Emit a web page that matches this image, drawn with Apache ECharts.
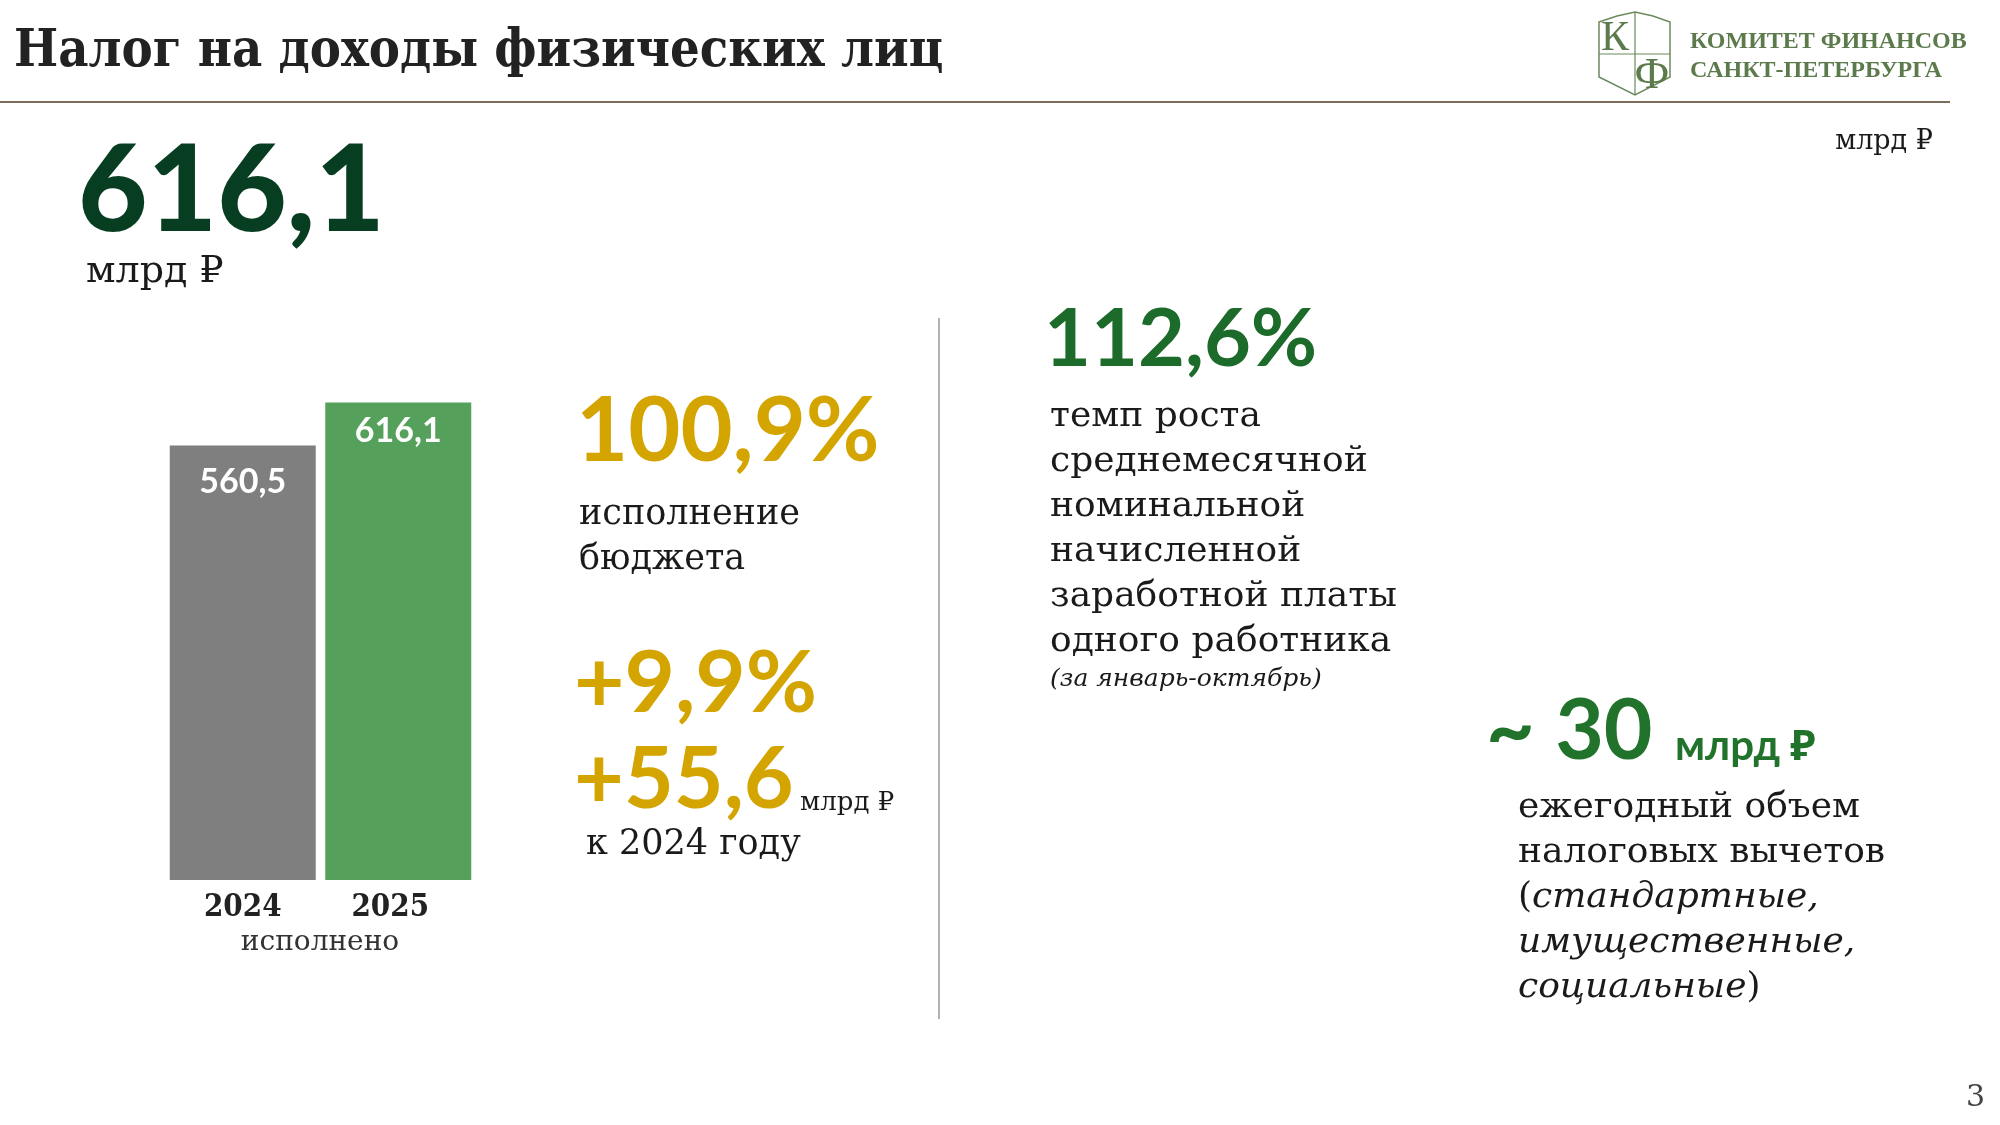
<!DOCTYPE html>
<html>
<head>
<meta charset="utf-8">
<script src="https://cdn.jsdelivr.net/npm/echarts@6/dist/echarts.min.js"></script>
<style>
  html, body { margin: 0; padding: 0; background: #fff; }
  #main { width: 2000px; height: 1125px; }
</style>
</head>
<body>
<div id="main"></div>
<script>
// данные
const years = ["2024", "2025"];
const yearShift = [0, 16];
const revenue = [560.5, 616.1];
const barColors = ["#7f7f7f", "#55a05b"];
const labelGap = [19, 12];
const total2025 = 616.1;
const budgetExec = 100.9;
const growthPct = 9.9;
const growthAbs = 55.6;
const wageGrowth = 112.6;
const deductions = 30;
const wageLines = ["темп роста", "среднемесячной", "номинальной", "начисленной", "заработной платы", "одного работника"];

const SERIF = "'DejaVu Serif Condensed', 'DejaVu Serif', serif";
const SERIF_BODY = "'DejaVu Serif', serif";
const SANS = "Lato, 'Noto Sans', sans-serif";
const GOLD = "#d4a400";
const DARK = "#1a1a1a";

function fmt(v) {
  return v.toFixed(1).replace(".", ",");
}

// текст, y — нижний край строки
function txt(x, y, text, size, opts) {
  opts = opts || {};
  return {
    type: "text",
    x: x,
    y: y,
    silent: true,
    style: {
      text: text,
      fontSize: size,
      fontFamily: opts.family || SERIF_BODY,
      fontWeight: opts.weight || "normal",
      fontStyle: opts.style || "normal",
      fill: opts.color || DARK,
      textAlign: opts.align || "left",
      textVerticalAlign: "bottom",
      rich: opts.rich
    }
  };
}

let chart = echarts.init(document.getElementById("main"), null, { renderer: "canvas" });

const richBody = {
  n: { fontSize: 36, fontFamily: SERIF_BODY, fill: DARK },
  i: { fontSize: 36, fontFamily: SERIF_BODY, fontStyle: "italic", fill: DARK }
};

let graphics = [
  // заголовок
  txt(14, 78, "Налог на доходы физических лиц", 52, { family: SERIF, weight: "bold", color: "#222" }),
  { type: "line", shape: { x1: 0, y1: 102, x2: 1950, y2: 102 }, style: { stroke: "#7a6e5a", lineWidth: 2 } },
  // логотип
  {
    type: "polygon",
    shape: { points: [[1599, 22], [1617, 16], [1635, 12], [1653, 16], [1670, 22], [1670, 77], [1635, 95], [1599, 77]] },
    style: { fill: "none", stroke: "#6b8a5c", lineWidth: 1.5 }
  },
  { type: "line", shape: { x1: 1635, y1: 12, x2: 1635, y2: 95 }, style: { stroke: "#6b8a5c", lineWidth: 1.2 } },
  { type: "line", shape: { x1: 1599, y1: 54, x2: 1670, y2: 54 }, style: { stroke: "#6b8a5c", lineWidth: 1.2 } },
  txt(1615, 60, "К", 42, { family: "'Liberation Serif', serif", color: "#5c7a4c", align: "center" }),
  txt(1652, 98, "Ф", 44, { family: "'Liberation Serif', serif", color: "#5c7a4c", align: "center" }),
  txt(1690, 54, "КОМИТЕТ ФИНАНСОВ", 24, { family: "'Liberation Serif', serif", weight: "bold", color: "#5c7a4c" }),
  txt(1690, 83, "САНКТ-ПЕТЕРБУРГА", 24, { family: "'Liberation Serif', serif", weight: "bold", color: "#5c7a4c" }),
  txt(1933, 155, "млрд ₽", 27, { align: "right" }),
  // итоговая сумма
  txt(78, 252, fmt(total2025), 120, { family: SANS, weight: 900, color: "#073d20" }),
  txt(86, 291, "млрд ₽", 38),
  // подпись под столбцами
  txt(320, 957, "исполнено", 28, { align: "center", color: "#333" }),
  // разделитель
  { type: "line", shape: { x1: 939, y1: 318, x2: 939, y2: 1019 }, style: { stroke: "#999", lineWidth: 1.5 } },
  // исполнение бюджета
  txt(576, 477, fmt(budgetExec) + "%", 90, { family: SANS, weight: "bold", color: GOLD }),
  txt(579, 532, "исполнение", 35),
  txt(579, 577, "бюджета", 35),
  txt(574, 727, "+" + fmt(growthPct) + "%", 87, { family: SANS, weight: "bold", color: GOLD }),
  txt(574, 823, "+" + fmt(growthAbs), 86, { family: SANS, weight: "bold", color: GOLD }),
  txt(800, 816, "млрд ₽", 26),
  txt(586, 862, "к 2024 году", 35),
  // зарплата
  txt(1044, 380, fmt(wageGrowth) + "%", 81, { family: SANS, weight: "bold", color: "#1d6b2a" }),
  txt(1050, 692, "(за январь-октябрь)", 25, { style: "italic" }),
  // налоговые вычеты
  txt(1486, 774, "~ " + deductions, 84, { family: SANS, weight: "bold", color: "#21722b" }),
  txt(1675, 767, "млрд ₽", 42, { family: SANS, weight: "bold", color: "#21722b" }),
  txt(1518, 826, "ежегодный объем", 36),
  txt(1518, 871, "налоговых вычетов", 36),
  txt(1518, 916, "{n|(}{i|стандартные,}", 36, { rich: richBody }),
  txt(1518, 961, "{i|имущественные,}", 36, { rich: richBody }),
  txt(1518, 1006, "{i|социальные}{n|)}", 36, { rich: richBody }),
  txt(1985, 1113, "3", 30, { align: "right", color: "#444" })
];

for (let i = 0; i < wageLines.length; i++) {
  graphics.push(txt(1050, 435 + i * 45, wageLines[i], 36));
}

let option = {
  animation: false,
  backgroundColor: "#ffffff",
  grid: { left: 165, width: 311, top: 337.5, bottom: 245 },
  xAxis: {
    type: "category",
    data: years.map((y, i) => ({ value: y, textStyle: { padding: [0, yearShift[i], 0, 0] } })),
    axisLine: { show: false },
    axisTick: { show: false },
    axisLabel: {
      margin: 12,
      fontSize: 31,
      fontWeight: "bold",
      fontFamily: SERIF,
      color: "#222"
    }
  },
  yAxis: {
    type: "value",
    min: 0,
    max: 700,
    show: false,
    splitLine: { show: false }
  },
  series: [
    {
      type: "bar",
      barWidth: 146,
      data: revenue.map((v, i) => ({
        value: v,
        itemStyle: { color: barColors[i] },
        label: { distance: labelGap[i] }
      })),
      label: {
        show: true,
        position: "insideTop",
        color: "#fff",
        fontSize: 34,
        fontWeight: "bold",
        fontFamily: SANS,
        formatter: p => fmt(p.value)
      }
    }
  ],
  graphic: graphics
};

chart.setOption(option);
</script>
</body>
</html>
